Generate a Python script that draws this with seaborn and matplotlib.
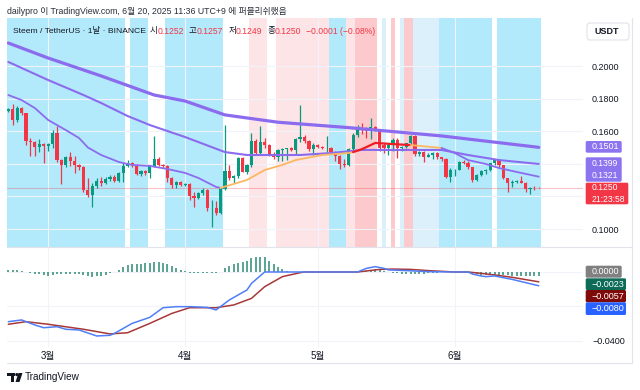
import numpy as np
import pandas as pd
import matplotlib
matplotlib.use("Agg")
import matplotlib.pyplot as plt
import seaborn as sns
from matplotlib.patches import Rectangle, FancyBboxPatch, Polygon, Circle

# ── Dados ────────────────────────────────────────────────────────────────────

dates = pd.date_range("2025-02-20", "2025-06-20", freq="D")   # velas diárias

opens = [.1726, .1734, .1666, .1740, .1709, .1540, .1532, .1501, .1522, .1511,
         .1522, .1591, .1424, .1393, .1444, .1420, .1393, .1379, .1240, .1209,
         .1264, .1295, .1281, .1307, .1321, .1295, .1346, .1389, .1407, .1393,
         .1336, .1356, .1344, .1387, .1428, .1393, .1387, .1311, .1270, .1287,
         .1270, .1276, .1200, .1192, .1219, .1240, .1127, .1131, .1096, .1246,
         .1355, .1311, .1325, .1433, .1352, .1392, .1542, .1464, .1536, .1515,
         .1454, .1444, .1485, .1490, .1495, .1485, .1550, .1566, .1540, .1490,
         .1515, .1505, .1495, .1500, .1475, .1450, .1400, .1390, .1490, .1577,
         .1620, .1605, .1600, .1625, .1612, .1515, .1495, .1515, .1546, .1495,
         .1505, .1525, .1572, .1460, .1475, .1444, .1454, .1464, .1440, .1428,
         .1321, .1362, .1365, .1413, .1403, .1378, .1300, .1331, .1355, .1362,
         .1403, .1425, .1390, .1311, .1280, .1290, .1292, .1285, .1245, .1252,
         .1252]
highs = [.1745, .1765, .1752, .1750, .1713, .1560, .1540, .1552, .1525, .1530,
         .1608, .1632, .1428, .1448, .1470, .1448, .1399, .1385, .1315, .1285,
         .1311, .1321, .1321, .1331, .1331, .1352, .1403, .1423, .1413, .1399,
         .1362, .1362, .1393, .1571, .1440, .1399, .1393, .1321, .1295, .1295,
         .1283, .1285, .1225, .1229, .1250, .1245, .1178, .1172, .1260, .1635,
         .1390, .1330, .1440, .1440, .1400, .1587, .1550, .1632, .1560, .1520,
         .1470, .1490, .1495, .1500, .1505, .1560, .1760, .1575, .1545, .1525,
         .1520, .1510, .1570, .1505, .1480, .1455, .1430, .1500, .1590, .1640,
         .1650, .1625, .1683, .1630, .1615, .1525, .1525, .1556, .1556, .1510,
         .1530, .1577, .1577, .1480, .1480, .1465, .1470, .1470, .1444, .1434,
         .1372, .1370, .1415, .1423, .1415, .1380, .1335, .1360, .1370, .1407,
         .1430, .1430, .1395, .1315, .1300, .1298, .1325, .1290, .1255, .1265,
         .1257]
lows = [.1718, .1638, .1658, .1700, .1515, .1448, .1450, .1470, .1403, .1480,
        .1500, .1413, .1274, .1383, .1385, .1342, .1364, .1229, .1199, .1137,
        .1250, .1264, .1275, .1297, .1290, .1287, .1287, .1383, .1383, .1331,
        .1327, .1331, .1311, .1383, .1389, .1374, .1290, .1250, .1250, .1262,
        .1262, .1180, .1137, .1185, .1210, .1111, .1014, .1086, .1092, .1240,
        .1300, .1285, .1315, .1350, .1340, .1380, .1460, .1455, .1500, .1450,
        .1430, .1420, .1420, .1425, .1480, .1460, .1535, .1530, .1480, .1455,
        .1495, .1490, .1470, .1470, .1420, .1370, .1380, .1385, .1485, .1565,
        .1580, .1560, .1555, .1600, .1480, .1464, .1454, .1480, .1433, .1480,
        .1495, .1515, .1450, .1450, .1413, .1440, .1430, .1430, .1420, .1311,
        .1290, .1325, .1360, .1400, .1370, .1290, .1295, .1325, .1340, .1355,
        .1395, .1380, .1305, .1225, .1260, .1280, .1280, .1225, .1215, .1238,
        .1249]
closes = [.1734, .1666, .1740, .1709, .1540, .1532, .1501, .1522, .1511, .1522,
          .1591, .1424, .1393, .1444, .1420, .1393, .1379, .1240, .1209, .1264,
          .1295, .1281, .1307, .1321, .1295, .1346, .1389, .1407, .1393, .1336,
          .1356, .1344, .1387, .1428, .1393, .1387, .1311, .1270, .1287, .1270,
          .1276, .1200, .1192, .1219, .1240, .1127, .1131, .1096, .1246, .1355,
          .1311, .1325, .1433, .1352, .1392, .1542, .1464, .1536, .1515, .1454,
          .1444, .1485, .1490, .1495, .1485, .1550, .1566, .1540, .1490, .1515,
          .1505, .1495, .1500, .1475, .1450, .1400, .1390, .1490, .1577, .1620,
          .1605, .1600, .1625, .1612, .1495, .1495, .1515, .1546, .1495, .1505,
          .1525, .1572, .1460, .1475, .1444, .1454, .1464, .1440, .1428, .1321,
          .1362, .1365, .1413, .1403, .1378, .1300, .1331, .1355, .1362, .1403,
          .1425, .1390, .1311, .1280, .1290, .1292, .1285, .1245, .1252, .1251,
          .1250]

# médias móveis (índice do dia, valor)
ma_slow_idx = [0, 9, 21, 33, 40, 49, 61, 77, 98, 120]
ma_slow_val = [.2141, .2049, .1939, .1822, .1785, .1700, .1655, .1622, .1571, .1501]

ma_mid_idx = [0, 9, 17, 21, 27, 32, 40, 49, 54, 66, 73, 80, 98, 104, 111, 120]
ma_mid_val = [.2025, .1914, .1822, .1773, .1693, .1638, .1564, .1472, .1454,
              .1454, .1466, .1485, .1485, .1454, .1423, .1399]

ma_fast_idx = [0, 3, 6, 9, 13, 16, 18, 21, 25, 28, 32, 36, 40, 43, 47, 48,
               54, 58, 62, 65, 71, 77, 78, 80, 83, 87, 91, 95, 98, 101, 104,
               108, 111, 115, 120]
ma_fast_val = [.1822, .1791, .1742, .1669, .1607, .1558, .1500, .1454, .1411,
               .1393, .1387, .1368, .1344, .1313, .1258, .1252, .1301, .1362,
               .1393, .1423, .1454, .1466, .1472, .1490, .1528, .1521, .1515,
               .1505, .1497, .1466, .1423, .1399, .1374, .1350, .1321]
# trechos da média rápida por estado (início, fim, estado)
ma_fast_states = [(0, 48, "baixa"), (48, 78, "alta"), (78, 91, "forte"),
                  (91, 98, "alta"), (98, 120, "baixa")]

# faixas de fundo (estado, primeiro dia, último dia)
band_runs = [("azul", 0, 26), ("azul", 28, 31), ("azul", 36, 48),
             ("rosa", 55, 58), ("rosa", 61, 72), ("azul", 73, 76),
             ("rosa", 77, 78), ("vermelho", 79, 83), ("azul_claro", 85, 85),
             ("vermelho", 87, 87), ("azul_claro", 89, 89), ("vermelho", 90, 91),
             ("azul_claro", 92, 97), ("azul", 98, 109), ("azul", 111, 120)]

macd_idx = [0, 3, 6, 8, 11, 13, 16, 20, 23, 24, 28, 32, 35, 38, 41, 45, 47, 50,
            54, 55, 58, 79, 81, 83, 85, 86, 90, 95, 101, 104, 105, 107, 108,
            110, 114, 120]
macd_val = [-.0288, -.0278, -.0307, -.0323, -.0317, -.0332, -.0336, -.0371,
            -.0367, -.0356, -.0298, -.0263, -.0207, -.0201, -.0201, -.0205,
            -.0220, -.0162, -.0104, -.0066, 0, 0, .0021, .0031, .0021, .0012,
            .0008, .0002, 0, 0, -.0012, -.0023, -.0027, -.0023, -.0043, -.0080]

signal_idx = [0, 4, 9, 17, 23, 27, 32, 37, 41, 47, 51, 55, 58, 62, 66, 67, 79,
              84, 87, 91, 95, 101, 104, 107, 110, 114, 120]
signal_val = [-.0303, -.0288, -.0303, -.0332, -.0359, -.0352, -.0298, -.0240,
              -.0207, -.0207, -.0191, -.0153, -.0085, -.0027, -.0004, 0, 0,
              .0015, .0017, .0015, .0008, 0, 0, -.0008, -.0017, -.0031, -.0057]

hist_val = [.0010, .0012, .0010, .0008, .0002, -.0004, -.0010, -.0014, -.0020, -.0023,
            -.0018, -.0012, -.0014, -.0012, -.0012, -.0012, -.0014, -.0018, -.0022, -.0027,
            -.0025, -.0022, -.0015, -.0008, .0002, .0012, .0027, .0040, .0048, .0048,
            .0048, .0050, .0054, .0056, .0056, .0050, .0044, .0032, .0022, .0012,
            .0004, -.0004, -.0006, -.0006, -.0006, -.0006, -.0008, -.0006, .0002, .0021,
            .0035, .0044, .0054, .0056, .0064, .0079, .0085, .0085, .0085, .0066,
            .0044, .0027, .0016, .0008, .0002, 0, 0, 0, 0, 0,
            0, 0, 0, 0, 0, 0, 0, 0, 0, 0,
            .0004, .0008, .0012, .0015, .0012, .0008, .0002, -.0004, -.0008, -.0012,
            -.0014, -.0014, -.0012, -.0012, -.0010, -.0008, -.0006, -.0004, -.0002, 0,
            0, 0, 0, 0, -.0004, -.0010, -.0014, -.0016, -.0018, -.0018,
            -.0018, -.0018, -.0020, -.0020, -.0021, -.0021, -.0022, -.0022, -.0023, -.0023,
            -.0023]

price_ticks = [.10, .12, .14, .16, .18, .20]
price_hidden = [.12, .14]          # rótulos cobertos pelas etiquetas do último valor
osc_ticks = [0.0, -0.02, -0.04]
osc_hidden = [0.0, -0.02]

header = "dailypro 이 TradingView.com, 6월 20, 2025 11:36 UTC+9 에 퍼블리쉬했음"
symbol = "Steem / TetherUS · 1날 · BINANCE"
countdown = "21:23:58"

# ── Estilo ───────────────────────────────────────────────────────────────────

UP, DOWN = "#089981", "#f23645"
PURPLE = "#8b6cef"
BAND_COLORS = {"azul": "#b3eafb", "azul_claro": "#dcf0fb",
               "rosa": "#fde4e6", "vermelho": "#fccacc"}
STATE_COLORS = {"baixa": PURPLE, "alta": "#fbb862", "forte": "#ee1c24"}
GRID = "#f0f3fa"
BORDER = "#e0e3eb"
TXT = "#131722"

sns.set_theme(style="white")
plt.rcParams["font.family"] = ["Liberation Sans", "Noto Sans CJK KR", "DejaVu Sans"]
plt.rcParams["axes.unicode_minus"] = True

W, H = 640, 390
fig = plt.figure(figsize=(W / 100, H / 100), dpi=100)


def px_rect(x0, y0, x1, y1):
    return [x0 / W, 1 - y1 / H, (x1 - x0) / W, (y1 - y0) / H]


def fmt(v):
    return f"{v:.4f}".replace("-", "−")


ax = fig.add_axes(px_rect(7, 18, 583, 247))
ax2 = fig.add_axes(px_rect(7, 247, 583, 347), sharex=ax)

n = len(dates)
idx = np.arange(n)
o, h, l, c = map(np.array, (opens, highs, lows, closes))
up = c >= o
colors = np.where(up, UP, DOWN)

# ── Painel de preço ──────────────────────────────────────────────────────────

for kind, d0, d1 in band_runs:
    ax.axvspan(d0 - 0.5, d1 + 0.5, color=BAND_COLORS[kind], lw=0, zorder=0)

ax.vlines(idx, l, h, colors=colors, lw=0.9, zorder=3)
body = np.maximum(np.abs(c - o), 0.00025)
ax.bar(idx, body, bottom=np.minimum(o, c), width=0.72, color=colors, lw=0, zorder=4)

ax.axhline(c[-1], color=DOWN, lw=0.8, alpha=0.3, zorder=2)

sns.lineplot(x=ma_slow_idx, y=ma_slow_val, ax=ax, color=PURPLE, lw=2.3, zorder=5)
sns.lineplot(x=ma_mid_idx, y=ma_mid_val, ax=ax, color=PURPLE, lw=1.5, zorder=5)
fast = pd.DataFrame({"i": ma_fast_idx, "v": ma_fast_val})
for d0, d1, state in ma_fast_states:
    seg = fast[(fast.i >= d0) & (fast.i <= d1)]
    sns.lineplot(data=seg, x="i", y="v", ax=ax, color=STATE_COLORS[state],
                 lw=1.3 if state != "forte" else 1.6, zorder=6)

ax.set_xlim(-0.3, 130)
ax.set_ylim(0.08896, 0.22945)
ax.set_yticks(price_ticks)
ax.set_yticklabels(["" if t in price_hidden else fmt(t) for t in price_ticks])
ax.yaxis.tick_right()
ax.tick_params(axis="y", length=0, pad=6.5, labelsize=6.5, labelcolor=TXT)

month_pos = [i for i, d in enumerate(dates) if d.day == 1]
month_lab = [f"{dates[i].month}월" for i in month_pos]
ax.set_xticks(month_pos)
ax.tick_params(axis="x", length=0, labelbottom=False)
ax.grid(True, color=GRID, lw=0.8)
ax.set_axisbelow(True)
ax.set_xlabel("")
ax.set_ylabel("")

# ── Painel do oscilador ──────────────────────────────────────────────────────

ax2.vlines(idx, 0, hist_val, colors="#2f8a76", lw=1.1, zorder=3)
sns.lineplot(x=signal_idx, y=signal_val, ax=ax2, color="#a83838", lw=1.1, zorder=4)
sns.lineplot(x=macd_idx, y=macd_val, ax=ax2, color="#4f7ef7", lw=1.1, zorder=5)
ax2.set_ylim(-0.04348, 0.01449)
ax2.set_yticks(osc_ticks)
ax2.set_yticklabels(["" if t in osc_hidden else fmt(t) for t in osc_ticks])
ax2.yaxis.tick_right()
ax2.tick_params(axis="y", length=0, pad=6.5, labelsize=6.5, labelcolor=TXT)
ax2.set_xticks(month_pos)
ax2.set_xticklabels(month_lab)
ax2.tick_params(axis="x", length=0, pad=3, labelsize=7, labelcolor=TXT)
ax2.grid(True, color=GRID, lw=0.8)
ax2.set_axisbelow(True)
ax2.set_xlabel("")
ax2.set_ylabel("")

for a in (ax, ax2):
    for s in a.spines.values():
        s.set_visible(False)

# ── Sobreposição em pixels: cabeçalho, etiquetas, moldura ───────────────────

ov = fig.add_axes([0, 0, 1, 1])
ov.set_xlim(0, W)
ov.set_ylim(H, 0)
ov.axis("off")

ov.plot([7, 632], [247, 247], color=BORDER, lw=0.8)
ov.plot([7, 632], [363, 363], color=BORDER, lw=0.8)
ov.plot([632, 632], [18, 363], color=BORDER, lw=0.8)

ov.text(7, 12, header, fontsize=6.3, color="#2a2e39", va="center", ha="left")

ov.text(13, 31, symbol, fontsize=6.1, color=TXT, va="center")
ohlc = [("시", 150, opens[-1], 157.5), ("고", 189, highs[-1], 197),
        ("저", 229, lows[-1], 236), ("종", 268, closes[-1], 275)]
for lab, xl, val, xv in ohlc:
    ov.text(xl, 31, lab, fontsize=6.1, color=TXT, va="center")
    ov.text(xv, 31, f"{val:.4f}", fontsize=6.2, color=DOWN, va="center")
chg = closes[-1] - closes[-2]
ov.text(306, 31, f"{chg:+.4f} ({chg / closes[-2] * 100:+.2f}%)".replace("-", "−"),
        fontsize=6.2, color=DOWN, va="center")

# caixa USDT
ov.add_patch(FancyBboxPatch((587, 23), 42, 17, boxstyle="round,pad=0,rounding_size=3",
                            fc="white", ec=BORDER, lw=0.8))
ov.text(607, 31.5, "USDT", fontsize=6.5, color=TXT, va="center", ha="center",
        fontweight="bold")


def tag(y0, y1, color, lines, x1=621.7, size=6.5):
    ov.add_patch(FancyBboxPatch((585.7, y0), x1 - 585.7, y1 - y0,
                                boxstyle="round,pad=0,rounding_size=1.5",
                                fc=color, ec="none"))
    ov.text(591.5, (y0 + y1) / 2, "\n".join(lines), fontsize=size, color="white",
            va="center", ha="left", linespacing=1.45)


tag(141, 152.7, "#8c74f0", [fmt(ma_slow_val[-1])])
tag(157.3, 181.7, "#8c74f0", [fmt(ma_mid_val[-1]), fmt(ma_fast_val[-1])], size=6.2)
tag(182.7, 204.3, DOWN, [fmt(closes[-1]), countdown], x1=628.3, size=6.2)

tag(265.7, 277.7, "#808080", [fmt(0.0)])
tag(278.3, 290.0, "#0d6b58", [fmt(hist_val[-1])], x1=626)
tag(290.0, 302.3, "#7f0a0a", [fmt(signal_val[-1])], x1=626)
tag(302.3, 315.0, "#2962ff", [fmt(macd_val[-1])], x1=626)

# logotipo TradingView
ov.add_patch(Rectangle((7, 373), 8, 3, color=TXT, lw=0))
ov.add_patch(Rectangle((11, 373), 3.2, 9, color=TXT, lw=0))
ov.add_patch(Circle((16.8, 374.6), 1.6, color=TXT, lw=0))
ov.add_patch(Polygon([[18.5, 373], [22.5, 373], [19.5, 382], [15.5, 382]],
                     closed=True, color=TXT, lw=0))
ov.text(25, 377.5, "TradingView", fontsize=7.2, color=TXT, va="center", ha="left")

fig.savefig("out.png", dpi=100)
plt.close(fig)
